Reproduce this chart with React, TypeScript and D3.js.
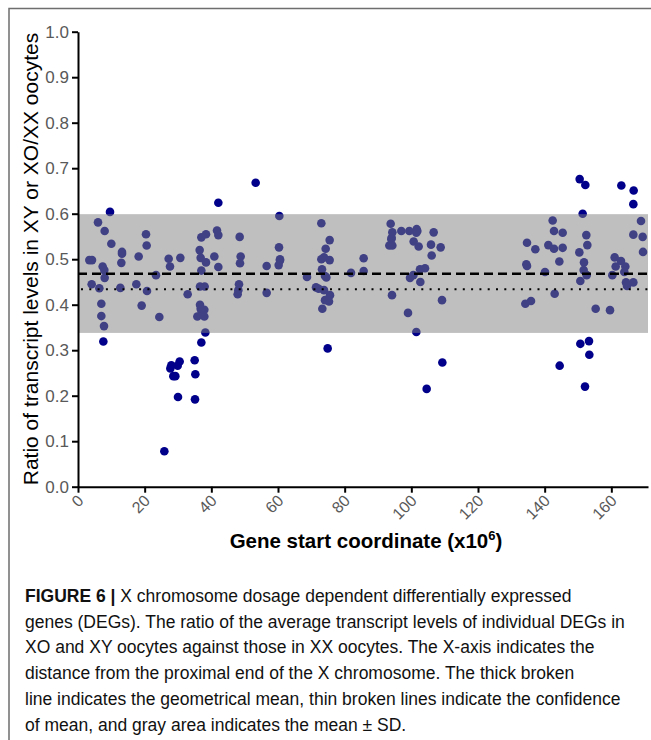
import React, { useEffect, useRef } from 'react';
import * as d3 from 'd3';

// gene start (x10^6) and transcript ratio for each DEG
const geneStart = [
  9.6, 6.0, 8.0, 10.0, 3.4, 4.2, 4.1, 6.4, 7.4, 7.9, 8.0, 7.0, 7.0, 7.8, 7.6,
  13.2, 13.2, 13.0, 12.7, 18.2, 20.4, 20.6, 17.5, 19.1, 20.7, 23.4, 24.4, 27.2, 27.6,
  30.7, 32.9, 35.8, 36.5, 36.8, 37.0, 38.4, 37.0, 38.4, 36.6, 38.0, 36.6, 36.8, 37.1,
  37.9, 37.9, 38.2, 37.0, 53.3, 42.1, 60.4, 41.7, 42.1, 40.9, 42.1, 48.5, 48.8, 48.6,
  48.3, 48.1, 47.9, 56.6, 56.6, 60.3, 60.6, 60.6, 60.2, 68.7, 73.0, 75.5, 74.3, 73.0,
  73.8, 75.5, 73.2, 74.1, 74.5, 71.4, 72.2, 73.8, 75.6, 74.1, 75.3, 73.3, 74.9, 81.9,
  85.7, 85.7, 93.8, 94.3, 94.1, 94.0, 93.4, 94.3, 97.0, 99.4, 101.6, 101.8, 101.5,
  100.7, 102.2, 106.7, 105.9, 108.8, 106.1, 102.6, 104.1, 100.6, 99.6, 102.7, 94.2,
  109.2, 99.0, 101.5, 109.3, 104.6, 144.5, 150.7, 153.3, 153.4, 152.1, 150.5, 152.2,
  163.0, 166.7, 166.6, 151.4, 168.9, 166.6, 169.4, 169.5, 142.4, 142.8, 145.4, 134.7,
  137.2, 141.1, 142.8, 145.4, 152.5, 152.8, 150.4, 134.5, 134.7, 144.4, 151.8, 140.1,
  151.7, 152.6, 150.7, 143.0, 134.2, 135.9, 155.3, 159.6, 161.0, 162.9, 161.3, 164.2,
  163.9, 160.3, 164.4, 164.7, 166.6, 27.7, 28.0, 30.5, 29.9, 28.6, 29.2, 30.0, 35.0,
  35.2, 35.1, 25.9
];
const ratio = [
  0.604, 0.581, 0.562, 0.534, 0.498, 0.498, 0.445, 0.436, 0.484, 0.476, 0.459, 0.402, 0.375, 0.353, 0.319,
  0.516, 0.512, 0.492, 0.437, 0.506, 0.555, 0.530, 0.445, 0.398, 0.430, 0.465, 0.373, 0.501, 0.484,
  0.503, 0.423, 0.374, 0.520, 0.503, 0.548, 0.555, 0.475, 0.493, 0.440, 0.440, 0.400, 0.391, 0.385,
  0.389, 0.374, 0.339, 0.317, 0.668, 0.624, 0.595, 0.563, 0.553, 0.506, 0.483, 0.549, 0.506, 0.491,
  0.445, 0.432, 0.423, 0.485, 0.426, 0.526, 0.500, 0.497, 0.487, 0.461, 0.579, 0.542, 0.523, 0.500,
  0.504, 0.498, 0.478, 0.463, 0.460, 0.438, 0.435, 0.432, 0.421, 0.410, 0.407, 0.391, 0.304, 0.470,
  0.502, 0.474, 0.578, 0.559, 0.547, 0.544, 0.530, 0.530, 0.562, 0.562, 0.566, 0.562, 0.558,
  0.539, 0.528, 0.559, 0.532, 0.526, 0.508, 0.478, 0.480, 0.465, 0.459, 0.450, 0.421,
  0.410, 0.382, 0.340, 0.273, 0.215, 0.266, 0.314, 0.320, 0.290, 0.220, 0.676, 0.663,
  0.662, 0.651, 0.621, 0.600, 0.584, 0.554, 0.549, 0.516, 0.585, 0.562, 0.558, 0.536,
  0.522, 0.531, 0.523, 0.525, 0.553, 0.531, 0.515, 0.489, 0.485, 0.495, 0.493, 0.472,
  0.476, 0.465, 0.452, 0.424, 0.402, 0.408, 0.391, 0.388, 0.504, 0.496, 0.484, 0.484,
  0.472, 0.465, 0.449, 0.441, 0.449, 0.260, 0.267, 0.275, 0.266, 0.243, 0.243, 0.197, 0.278,
  0.247, 0.192, 0.078
];

// summary lines
const geoMean = 0.468;
const ciLower = 0.434;
const sdBand = [0.338, 0.599];

const yTicks = [0, 0.1, 0.2, 0.3, 0.4, 0.5, 0.6, 0.7, 0.8, 0.9, 1.0];
const xTicks = [0, 20, 40, 60, 80, 100, 120, 140, 160];

const captionLines = [
  'X chromosome dosage dependent differentially expressed',
  'genes (DEGs). The ratio of the average transcript levels of individual DEGs in',
  'XO and XY oocytes against those in XX oocytes. The X-axis indicates the',
  'distance from the proximal end of the X chromosome. The thick broken',
  'line indicates the geometrical mean, thin broken lines indicate the confidence',
  'of mean, and gray area indicates the mean \u00B1 SD.'
];

const W = 651;
const H = 740;

const App = () => {
  const svgRef = useRef(null);

  useEffect(() => {
    const svg = d3.select(svgRef.current);
    svg.selectAll('*').remove();
    const font = '"Liberation Sans", Arial, sans-serif';

    const x = d3.scaleLinear().domain([0, 171]).range([78, 648]);
    const y = d3.scaleLinear().domain([0, 1]).range([486.7, 31.7]);

    // frame
    svg.append('path')
      .attr('d', `M9,${H} V8.5 H${W}`)
      .attr('fill', 'none')
      .attr('stroke', '#6e6e6e')
      .attr('stroke-width', 1.5);

    // points
    const data = geneStart.map((g, i) => ({ g, r: ratio[i] }));
    svg.append('g')
      .selectAll('circle')
      .data(data)
      .join('circle')
      .attr('cx', d => x(d.g))
      .attr('cy', d => y(d.r))
      .attr('r', 4.3)
      .attr('fill', '#00008b');

    // mean +- SD band, drawn over the points
    svg.append('rect')
      .attr('x', x(0))
      .attr('width', x(171) - x(0))
      .attr('y', y(sdBand[1]))
      .attr('height', y(sdBand[0]) - y(sdBand[1]))
      .attr('fill', '#808080')
      .attr('fill-opacity', 0.5);

    svg.append('line')
      .attr('x1', x(0)).attr('x2', x(171))
      .attr('y1', y(geoMean)).attr('y2', y(geoMean))
      .attr('stroke', '#000')
      .attr('stroke-width', 2.5)
      .attr('stroke-dasharray', '9,5');

    svg.append('line')
      .attr('x1', x(0) + 3).attr('x2', x(171))
      .attr('y1', y(ciLower)).attr('y2', y(ciLower))
      .attr('stroke', '#000')
      .attr('stroke-width', 2)
      .attr('stroke-dasharray', '2,6.3');

    // y axis
    const yAxis = d3.axisLeft(y).tickValues(yTicks).tickFormat(d3.format('.1f')).tickSize(6).tickSizeOuter(0).tickPadding(3);
    svg.append('g')
      .attr('transform', `translate(${x(0)},0)`)
      .call(yAxis)
      .call(g => g.select('.domain').attr('stroke', '#000').attr('stroke-width', 2))
      .call(g => g.selectAll('.tick line').attr('stroke', '#000').attr('stroke-width', 2))
      .call(g => g.selectAll('.tick text')
        .attr('fill', '#595959')
        .style('font-size', '17px')
        .style('font-family', font));

    // x axis
    const xAxis = d3.axisBottom(x).tickValues(xTicks).tickSize(6).tickSizeOuter(0);
    svg.append('g')
      .attr('transform', `translate(0,${y(0)})`)
      .call(xAxis)
      .call(g => g.select('.domain').attr('stroke', '#000').attr('stroke-width', 2))
      .call(g => g.selectAll('.tick line').attr('stroke', '#000').attr('stroke-width', 2))
      .call(g => g.selectAll('.tick text')
        .attr('fill', '#595959')
        .attr('y', 0)
        .attr('dy', 0)
        .attr('text-anchor', 'end')
        .attr('transform', 'translate(6,15) rotate(-45)')
        .style('font-size', '16px')
        .style('font-family', font));

    // axis titles
    svg.append('text')
      .text('Ratio of transcript levels in XY or XO/XX oocytes')
      .attr('transform', 'translate(38,259) rotate(-90)')
      .attr('text-anchor', 'middle')
      .style('font-size', '21px')
      .style('font-family', font);

    svg.append('text')
      .text('Gene start coordinate (x10')
      .attr('x', 366)
      .attr('y', 548)
      .attr('text-anchor', 'middle')
      .style('font-size', '20.5px')
      .style('font-weight', 'bold')
      .style('font-family', font)
      .call(t => t.append('tspan').text('6').attr('dy', -8).style('font-size', '13px'))
      .call(t => t.append('tspan').text(')').attr('dy', 8));

    // caption
    const cap = svg.append('g')
      .style('font-family', font)
      .style('font-size', '17.5px');
    captionLines.forEach((line, i) => {
      const t = cap.append('text')
        .attr('x', 25)
        .attr('y', 602 + i * 25.7)
        .attr('fill', '#111');
      if (i === 0) {
        t.append('tspan').text('FIGURE 6 | ').style('font-weight', 'bold');
      }
      t.append('tspan').text(line);
    });
  }, []);

  return (
    <svg
      ref={svgRef}
      width={W}
      height={H}
      viewBox={`0 0 ${W} ${H}`}
      style={{ position: 'absolute', left: 0, top: 0, background: '#fff' }}
    />
  );
};

export default App;
